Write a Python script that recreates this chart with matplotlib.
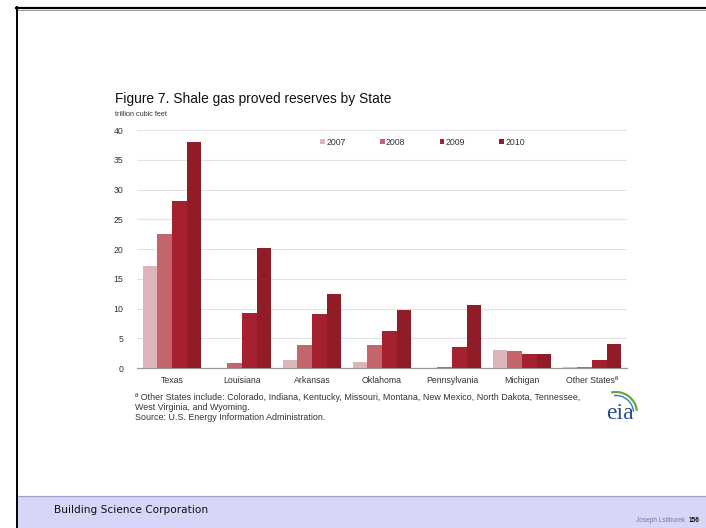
import matplotlib
matplotlib.use("Agg")
import matplotlib.pyplot as plt
import numpy as np
from matplotlib.patches import Rectangle, Arc
from matplotlib.lines import Line2D

states = ["Texas", "Louisiana", "Arkansas", "Oklahoma", "Pennsylvania", "Michigan", "Other States\u00aa"]
years = ["2007", "2008", "2009", "2010"]
v2007 = [17.1, 0.0, 1.4, 1.0, 0.0, 3.1, 0.1]
v2008 = [22.5, 0.85, 3.8, 3.8, 0.1, 2.8, 0.2]
v2009 = [28.1, 9.3, 9.0, 6.3, 3.6, 2.4, 1.3]
v2010 = [38.0, 20.1, 12.5, 9.7, 10.6, 2.3, 4.05]
yticks = [0, 5, 10, 15, 20, 25, 30, 35, 40]
colors = ["#dbb5b9", "#c4646d", "#a6212f", "#911b27"]

W, H = 706, 528
plt.rcParams["font.family"] = ["Liberation Sans", "DejaVu Sans"]
fig = plt.figure(figsize=(W / 100, H / 100), dpi=100)
fig.patch.set_facecolor("white")

def fx(x):
    return x / W

def fy(y):
    return 1 - y / H

# slide frame
fig.add_artist(Line2D([fx(16.8), fx(16.8)], [fy(7), fy(528)], color="black", lw=1.4, transform=fig.transFigure))
fig.add_artist(Line2D([fx(16), fx(706)], [fy(7.8), fy(7.8)], color="black", lw=1.6, transform=fig.transFigure))
fig.add_artist(Line2D([fx(17.5), fx(706)], [fy(9.6), fy(9.6)], color="#9a9a9a", lw=0.7, transform=fig.transFigure))

# footer band
fig.add_artist(Rectangle((fx(17.8), 0), 1 - fx(17.8), fy(496), facecolor="#d6d6f8", edgecolor="none", transform=fig.transFigure))
fig.add_artist(Line2D([fx(17.8), 1], [fy(496), fy(496)], color="#a0a0c8", lw=0.9, transform=fig.transFigure))
fig.text(fx(54), fy(510), "Building Science Corporation", fontsize=7.6, family="DejaVu Sans", color="#111111", va="center", ha="left")
fig.text(fx(685), fy(520.5), "Joseph Lstiburek", fontsize=4.7, color="#7a7a99", va="center", ha="right")
fig.text(fx(688.5), fy(520.5), "156", fontsize=4.7, color="#111111", weight="bold", va="center", ha="left")

# chart axes: x from 137 to 627 px, y value 0 at 368 px, 40 at 130 px
ax_l, ax_r, ax_b, ax_t = 137, 627, 368, 130
ax = fig.add_axes([fx(ax_l), fy(ax_b), (ax_r - ax_l) / W, (ax_b - ax_t) / H])
x = np.arange(len(states))
bw = 0.21
for i, (vals, c, yr) in enumerate(zip([v2007, v2008, v2009, v2010], colors, years)):
    ax.bar(x + (i - 1.5) * bw, vals, width=bw, color=c, label=yr, zorder=3)
ax.set_xlim(-0.5, len(states) - 0.5)
ax.set_ylim(0, 40)
ax.set_yticks(yticks)
ax.set_yticklabels([str(t) for t in yticks], fontsize=6.3, color="#333333")
ax.set_xticks(x)
ax.set_xticklabels(states, fontsize=6.3, color="#333333")
ax.tick_params(axis="x", length=0, pad=6)
ax.tick_params(axis="y", length=0, pad=10)
ax.grid(axis="y", color="#e2e2e2", lw=0.8, zorder=0)
for s in ["top", "right", "left"]:
    ax.spines[s].set_visible(False)
ax.spines["bottom"].set_color("#9a9a9a")
ax.spines["bottom"].set_linewidth(0.9)
ax.set_facecolor("none")

leg = ax.legend(loc="center left", bbox_to_anchor=((320 - ax_l) / (ax_r - ax_l), (ax_b - 142) / (ax_b - ax_t)),
                ncol=4, frameon=False, fontsize=6.3, handlelength=0.55, handleheight=0.55,
                handletextpad=0.15, columnspacing=3.9, labelcolor="#333333", borderaxespad=0, borderpad=0)

# title fitted to reference width
title = fig.text(fx(115), fy(99), "Figure 7. Shale gas proved reserves by State", fontsize=9, color="#111111", va="center", ha="left")
fig.canvas.draw()
r = fig.canvas.get_renderer()
wpx = title.get_window_extent(r).width
title.set_fontsize(9 * 277 / wpx)
fig.text(fx(115), fy(114), "trillion cubic feet", fontsize=5.2, color="#333333", va="center", ha="left")

foot1 = fig.text(fx(135), fy(397), "\u00aa Other States include: Colorado, Indiana, Kentucky, Missouri, Montana, New Mexico, North Dakota, Tennessee,",
                 fontsize=5.6, color="#333333", va="center", ha="left")
fig.canvas.draw()
w1 = foot1.get_window_extent(r).width
fsz = 5.6 * 438 / w1
foot1.set_fontsize(fsz)
fig.text(fx(135), fy(408), "West Virginia, and Wyoming.", fontsize=fsz, color="#333333", va="center", ha="left")
fig.text(fx(135), fy(418), "Source: U.S. Energy Information Administration.", fontsize=fsz, color="#333333", va="center", ha="left")

# eia logo
fig.text(fx(620), fy(419), "eia", fontsize=17, family="Liberation Serif", color="#2a4d8a", va="baseline", ha="center")
fig.add_artist(Arc((fx(616), fy(413)), fx(42), (42 / H), theta1=8, theta2=100, color="#6aa83c", lw=1.6, transform=fig.transFigure))
fig.add_artist(Arc((fx(616), fy(413)), fx(35), (35 / H), theta1=5, theta2=95, color="#2f7fc0", lw=1.0, transform=fig.transFigure))

fig.savefig("out.png", dpi=100)
